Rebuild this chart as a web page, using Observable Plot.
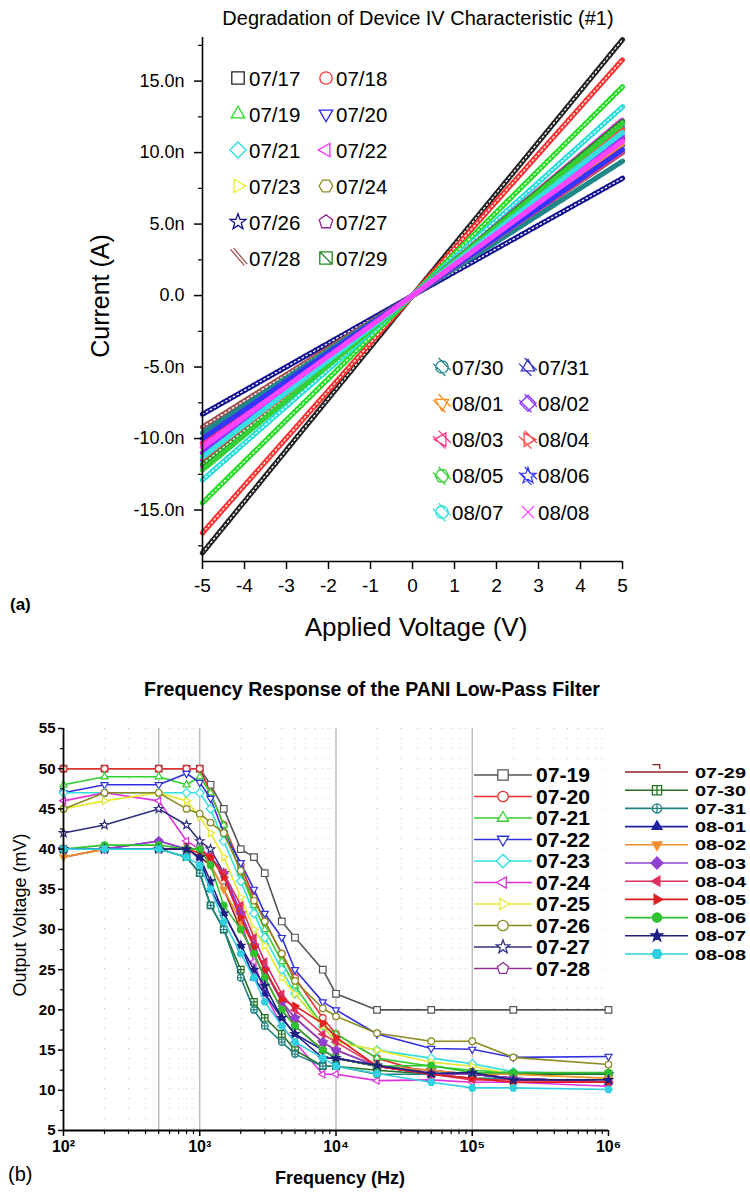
<!DOCTYPE html>
<html><head><meta charset="utf-8">
<script src="https://cdn.jsdelivr.net/npm/d3@7"></script>
<script src="https://cdn.jsdelivr.net/npm/@observablehq/plot@0.6"></script>
<style>
body{margin:0;background:#fff;}
#wrap{position:relative;width:750px;height:1193px;overflow:hidden;background:#fff;}
</style></head><body><div id="wrap"></div>
<script>
// ---------------- Panel (a) data: current (nA) at each applied voltage ----------------
const voltsA = [-5, -2.5, 0, 2.5, 5];
const iv_0717 = [-18.0, -9.0, 0, 8.95, 17.9];
const iv_0718 = [-16.6, -8.3, 0, 8.25, 16.5];
const iv_0719 = [-14.5, -7.25, 0, 7.3, 14.6];
const iv_0720 = [-11.5, -5.75, 0, 5.9, 11.8];
const iv_0721 = [-12.9, -6.45, 0, 6.6, 13.2];
const iv_0722 = [-12.0, -6.0, 0, 6.15, 12.3];
const iv_0723 = [-11.3, -5.65, 0, 5.75, 11.5];
const iv_0724 = [-11.0, -5.5, 0, 5.8, 11.6];
const iv_0726 = [-8.3, -4.15, 0, 4.1, 8.2];
const iv_0727 = [-10.6, -5.3, 0, 5.5, 11.0];
const iv_0728 = [-9.2, -4.6, 0, 5.0, 10.0];
const iv_0729 = [-11.8, -5.9, 0, 6.1, 12.2];
const iv_0730 = [-9.6, -4.8, 0, 4.7, 9.4];
const iv_0731 = [-10.3, -5.15, 0, 5.25, 10.5];
const iv_0801 = [-10.5, -5.25, 0, 5.3, 10.6];
const iv_0802 = [-11.0, -5.5, 0, 5.6, 11.2];
const iv_0803 = [-10.3, -5.15, 0, 5.05, 10.1];
const iv_0804 = [-11.4, -5.7, 0, 5.8, 11.6];
const iv_0805 = [-12.2, -6.1, 0, 6.0, 12.0];
const iv_0806 = [-10.0, -5.0, 0, 5.1, 10.2];
const iv_0807 = [-11.3, -5.65, 0, 5.7, 11.4];
const iv_0808 = [-10.6, -5.3, 0, 5.4, 10.8];
const datesA = ["07/17","07/18","07/19","07/20","07/21","07/22","07/23","07/24","07/26","07/27","07/28","07/29",
                "07/30","07/31","08/01","08/02","08/03","08/04","08/05","08/06","08/07","08/08"];
const seriesA = [iv_0717,iv_0718,iv_0719,iv_0720,iv_0721,iv_0722,iv_0723,iv_0724,iv_0726,iv_0727,iv_0728,iv_0729,
                 iv_0730,iv_0731,iv_0801,iv_0802,iv_0803,iv_0804,iv_0805,iv_0806,iv_0807,iv_0808];
const colorsA = ["#222222","#ff3030","#20dd20","#2525ff","#25dddd","#ff25ff","#eeee25","#8a8a25","#101090","#952595","#a05050","#208a20",
                 "#208888","#3535c0","#ff8c25","#8a35ff","#ff3585","#ff4a4a","#35d035","#3535ff","#35e0e0","#ff45ff"];
const symbolsA = ["square","circle","triUp","triDown","diamond","triLeft","triRight","hexagon","star","pentagon","dslash","squareD",
                  "circleH","triUpH","triDownH","diamondH","triLeftH","triRightH","hexagonH","starH","circleH","times"];
const yTicksA = [-15,-10,-5,0,5,10,15];
const yMinorA = [-17.5,-12.5,-7.5,-2.5,2.5,7.5,12.5,17.5];
const xTicksA = [-5,-4,-3,-2,-1,0,1,2,3,4,5];
const yDomainA = [-18.6, 18.05];
const xDomainA = [-5, 5];

// ---------------- Panel (b) data: output voltage (mV) vs frequency (Hz) ----------------
const freqB = [100,200,500,800,1000,1200,1500,2000,2500,3000,4000,5000,8000,10000,20000,50000,100000,200000,1000000];
const fr_0719 = [50,50,50,50,50,48,45,40,39,37,31,29,25,22,20,20,null,20,20];
const fr_0720 = [50,50,50,50,50,47,43,38,34,31,27,24,19,17,14,12,11.5,11,11];
const fr_0721 = [48,49,49,48,49,47,43,37,33,30,26,23,18,17,14,13,12.5,12.2,12];
const fr_0722 = [47,48,48,49.4,48.3,46.3,42,38.3,35,32,29,25,21,20,17,15.2,15.1,14.1,14.2];
const fr_0723 = [47,47,47,47,47,45,41,36,32,29,25,22,18,16,15,14,13.3,12.3,12];
const fr_0724 = [46,47,46,41,40,39,37,31,26,22,18,16,12,12,11.2,11.3,11,11,10.5];
const fr_0725 = [45,46,47,46,44,42,39,34,30,28,24,22,18,16,15,13.5,13,12,11.5];
const fr_0726 = [45,47,47,45,44.4,43.3,42,37.3,33.6,31,27,23.6,20.2,19.2,17.1,16.1,16.1,14.1,13.2];
const fr_0727 = [42,43,45,43,41,40,37,32,28,25,21,19,16,15,13,12.5,12,12,12];
const fr_0728 = [40,40,41,40,40,39,37,32,28,25,21,18,15,14,13,12,12,11.5,11];
const fr_0729 = [39,40,40,40,39,38,35,30,27,24,20,18,15,14,13,12,12,11.5,11];
const fr_0730 = [40,40,40,39,37,33,30,25,21,19,17,15,13,13,12.5,12,12,12,12];
const fr_0731 = [40,40,40,39,37,33,30,24,20,18,16,14.5,13,13,12,12,11.5,11.5,11];
const fr_0801 = [40,40,40,40,39,35,32,28,24,22,19,17,15,14,13,12,12,11.5,11];
const fr_0802 = [39,40,40,40,40,38,35,31,28,25,21,19,16,15,13,12.5,12,12,11.5];
const fr_0803 = [40,40,41,40,40,39,37,32,28,25,21,19,16,15,13,12,12,11.5,11];
const fr_0804 = [40,40,40,40,40,39,37,33,29,26,22,20,17,16,13,12,11.3,11.3,11];
const fr_0805 = [40,40,40,40,39.5,39,36.5,31.5,27.8,25,21.3,20.5,18.3,16.6,13,12,11.5,11,11];
const fr_0806 = [40,40.5,40.5,40,40,38,33,30,27,24,20,18,15,14,13,13.1,12.2,12.2,12.2];
const fr_0807 = [40,40,40,40,39,36,32,28,25,23,19,17,14,14,13.1,12.1,12.2,11.3,11.3];
const fr_0808 = [40,40,40,39,38,35,31,27,24,21,18,16,14,13,12.1,11,10.3,10.3,10.1];
const namesB = ["07-19","07-20","07-21","07-22","07-23","07-24","07-25","07-26","07-27","07-28",
                "07-29","07-30","07-31","08-01","08-02","08-03","08-04","08-05","08-06","08-07","08-08"];
const seriesB = [fr_0719,fr_0720,fr_0721,fr_0722,fr_0723,fr_0724,fr_0725,fr_0726,fr_0727,fr_0728,
                 fr_0729,fr_0730,fr_0731,fr_0801,fr_0802,fr_0803,fr_0804,fr_0805,fr_0806,fr_0807,fr_0808];
const colorsB = ["#555555","#e83030","#30d030","#3030e0","#30e0e0","#e030e0","#e8e830","#8a8a20","#303080","#903090",
                 "#902020","#207020","#208080","#2020a0","#f09030","#9040d0","#e03060","#e02020","#30c030","#202080","#30d0e0"];
const symbolsB = ["square","circle","triUp","triDown","diamond","triLeft","triRight","circle","star","pentagon",
                  "hook","squarePlus","circlePlus","triUp","triDown","diamond","triLeft","triRight","circle","star","hexagon"];
const filledB = [false,false,false,false,false,false,false,false,false,false,
                 false,false,false,true,true,true,true,true,true,true,true];
const yTicksB = [5,10,15,20,25,30,35,40,45,50,55];
const yMinorB = [7.5,12.5,17.5,22.5,27.5,32.5,37.5,42.5,47.5,52.5];
const xTicksB = [100,1000,10000,100000,1000000];
const xMinorB = [200,300,400,500,600,700,800,900,2000,3000,4000,5000,6000,7000,8000,9000,
                 20000,30000,40000,50000,60000,70000,80000,90000,200000,300000,400000,500000,600000,700000,800000,900000];
const gridMajorB = [500,1000,10000,100000];
const yDomainB = [5, 55];
const xDomainB = [100, 1000000];

// ---------------- symbols ----------------
const FONT = "'Liberation Sans', Arial, Helvetica, sans-serif";
function poly(c, n, r, a0) {
  for (let i = 0; i < n; i++) {
    const a = a0 + i * 2 * Math.PI / n, x = r * Math.cos(a), y = r * Math.sin(a);
    if (i === 0) c.moveTo(x, y); else c.lineTo(x, y);
  }
  c.closePath();
}
function hatch(c, r) {
  for (const o of [-0.45 * r, 0.45 * r]) {
    c.moveTo(-r + o, -r - o); c.lineTo(r + o, r - o);
  }
}
function shape(name, c, r) {
  const base = name.endsWith("H") ? name.slice(0, -1) : name;
  switch (base) {
    case "square": c.rect(-r, -r, 2 * r, 2 * r); break;
    case "circle": c.moveTo(r, 0); c.arc(0, 0, r, 0, 2 * Math.PI); break;
    case "triUp": poly(c, 3, r * 1.25, -Math.PI / 2); break;
    case "triDown": poly(c, 3, r * 1.25, Math.PI / 2); break;
    case "triLeft": poly(c, 3, r * 1.25, Math.PI); break;
    case "triRight": poly(c, 3, r * 1.25, 0); break;
    case "diamond": poly(c, 4, r * 1.3, -Math.PI / 2); break;
    case "hexagon": poly(c, 6, r * 1.1, 0); break;
    case "pentagon": poly(c, 5, r * 1.15, -Math.PI / 2); break;
    case "star":
      for (let i = 0; i < 10; i++) {
        const rr = i % 2 ? r * 0.55 : r * 1.35, a = -Math.PI / 2 + i * Math.PI / 5;
        const x = rr * Math.cos(a), y = rr * Math.sin(a);
        if (i === 0) c.moveTo(x, y); else c.lineTo(x, y);
      }
      c.closePath(); break;
    case "dslash":
      c.moveTo(-r * 1.2, -r * 1.4); c.lineTo(r * 1.0, r * 1.2);
      c.moveTo(-r * 0.7, -r * 1.6); c.lineTo(r * 1.5, r * 1.0); break;
    case "squareD": c.rect(-r, -r, 2 * r, 2 * r); c.moveTo(-r, -r); c.lineTo(r, r); break;
    case "times": c.moveTo(-r, -r); c.lineTo(r, r); c.moveTo(r, -r); c.lineTo(-r, r); break;
    case "hook": c.moveTo(-r, -r * 1.6); c.lineTo(r * 0.6, -r * 1.6); c.lineTo(r * 0.6, -r * 0.6); break;
    case "squarePlus": c.rect(-r, -r, 2 * r, 2 * r); c.moveTo(-r, 0); c.lineTo(r, 0); c.moveTo(0, -r); c.lineTo(0, r); break;
    case "circlePlus": c.moveTo(r, 0); c.arc(0, 0, r, 0, 2 * Math.PI); c.moveTo(-r, 0); c.lineTo(r, 0); c.moveTo(0, -r); c.lineTo(0, r); break;
  }
  if (name.endsWith("H")) hatch(c, r);
}
const SYM = name => ({draw(ctx, size) { shape(name, ctx, Math.sqrt(size / Math.PI)); }});
function symPath(name, r) { const p = d3.path(); shape(name, p, r); return p.toString(); }

const wrap = document.getElementById("wrap");
function label(text, x, y, {size = 18, weight = "normal", rotate = 0, anchor = "middle"} = {}) {
  const d = document.createElement("div");
  d.textContent = text;
  d.style.cssText = `position:absolute;left:${x}px;top:${y}px;font-family:${FONT};font-size:${size}px;font-weight:${weight};white-space:nowrap;line-height:1;color:#000;transform:translate(${anchor === "start" ? "0" : "-50%"},-50%) rotate(${rotate}deg);`;
  wrap.appendChild(d);
}

// ---------------- Panel (a) ----------------
const rowsA = datesA.flatMap((d, i) => voltsA.map((v, j) => ({date: d, v, cur: seriesA[i][j]})));
const marksA = [];
datesA.forEach((d, i) => {
  const data = rowsA.filter(r => r.date === d);
  const hollow = i < 12;
  marksA.push(Plot.line(data, {x: "v", y: "cur", stroke: colorsA[i], strokeWidth: 5.2, strokeDasharray: hollow ? "3.2,1.2" : "2.2,0.9"}));
  if (hollow) marksA.push(Plot.line(data, {x: "v", y: "cur", stroke: "white", strokeWidth: 1.3, strokeDasharray: "1.6,2.8"}));
});
const fmtA = d => d === 0 ? "0.0" : (d < 0 ? "-" : "") + Math.abs(d).toFixed(1) + "n";
const chartA = Plot.plot({
  width: 750, height: 645,
  marginTop: 37, marginBottom: 84, marginLeft: 202, marginRight: 128,
  x: {domain: xDomainA},
  y: {domain: yDomainA},
  style: {fontFamily: FONT, fontSize: "18px", color: "#000", background: "transparent", overflow: "visible"},
  marks: [
    ...marksA,
    Plot.ruleX([xDomainA[0]], {stroke: "#000", strokeWidth: 1.6}),
    Plot.ruleY([yDomainA[0]], {stroke: "#000", strokeWidth: 1.6}),
    Plot.axisY(yTicksA, {anchor: "left", tickSize: 8, tickPadding: 10, tickFormat: fmtA, fontSize: 18, strokeWidth: 1.5, label: null}),
    Plot.axisY(yMinorA, {anchor: "left", tickSize: 4, tickFormat: () => "", strokeWidth: 1.2, label: null}),
    Plot.axisX(xTicksA, {anchor: "bottom", tickSize: 8, tickPadding: 9, tickFormat: d => (d < 0 ? "-" : "") + Math.abs(d), fontSize: 19, strokeWidth: 1.5, label: null})
  ]
});
chartA.style.position = "absolute"; chartA.style.left = "0px"; chartA.style.top = "0px";
wrap.appendChild(chartA);

// ---------------- Panel (b) ----------------
const rowsB = namesB.flatMap((n, i) => freqB.map((f, j) => ({name: n, f, mv: seriesB[i][j]}))).filter(r => r.mv != null);
const marksB = [];
namesB.forEach((n, i) => {
  const data = rowsB.filter(r => r.name === n);
  marksB.push(Plot.line(data, {x: "f", y: "mv", stroke: colorsB[i], strokeWidth: 1.6}));
  marksB.push(Plot.dot(data, {x: "f", y: "mv", symbol: SYM(symbolsB[i]), r: 3.3, stroke: colorsB[i], strokeWidth: 1.2, fill: filledB[i] ? colorsB[i] : "white"}));
});
const sup = {2: "\u00b2", 3: "\u00b3", 4: "\u2074", 5: "\u2075", 6: "\u2076"};
const chartB = Plot.plot({
  width: 750, height: 513,
  marginTop: 48, marginBottom: 63, marginLeft: 63, marginRight: 142,
  x: {type: "log", domain: xDomainB},
  y: {domain: yDomainB},
  style: {fontFamily: FONT, fontSize: "15px", color: "#000", background: "transparent", overflow: "visible"},
  marks: [
    Plot.ruleX(xMinorB, {stroke: "#c4c4c4", strokeWidth: 1, strokeDasharray: "1,9"}),
    Plot.ruleX(gridMajorB, {stroke: "#b4b4b4", strokeWidth: 1.3}),
    ...marksB,
    Plot.ruleX([xDomainB[0]], {stroke: "#000", strokeWidth: 1.8}),
    Plot.ruleY([yDomainB[0]], {stroke: "#000", strokeWidth: 1.8}),
    Plot.axisY(yTicksB, {anchor: "left", tickSize: 5, tickPadding: 3, fontSize: 15, fontWeight: "bold", strokeWidth: 1.5, label: null}),
    Plot.axisY(yMinorB, {anchor: "left", tickSize: 3, tickFormat: () => "", strokeWidth: 1.2, label: null}),
    Plot.axisX(xTicksB, {anchor: "bottom", tickSize: 6, tickPadding: 4, tickFormat: d => "10" + sup[Math.round(Math.log10(d))], fontSize: 16, fontWeight: "bold", strokeWidth: 1.5, label: null}),
    Plot.axisX(xMinorB, {anchor: "bottom", tickSize: 4, tickFormat: () => "", strokeWidth: 1.2, label: null})
  ]
});
chartB.style.position = "absolute"; chartB.style.left = "0px"; chartB.style.top = "680px";
wrap.appendChild(chartB);

// ---------------- Legends overlay ----------------
const svg = d3.select(wrap).append("svg")
  .attr("width", 750).attr("height", 1193)
  .style("position", "absolute").style("left", "0px").style("top", "0px").style("pointer-events", "none");

function legendA(startIndex, count, y0, dy, xs) {
  for (let k = 0; k < count; k++) {
    const i = startIndex + k, row = Math.floor(k / 2), col = k % 2;
    const y = y0 + row * dy, [sx, tx] = xs[col];
    svg.append("path").attr("d", symPath(symbolsA[i], 6.2)).attr("transform", `translate(${sx},${y})`)
      .attr("fill", "none").attr("stroke", colorsA[i]).attr("stroke-width", 1.3);
    svg.append("text").attr("x", tx).attr("y", y).attr("dominant-baseline", "central")
      .attr("font-family", FONT).attr("font-size", 20.5).attr("fill", "#000").text(datesA[i]);
  }
}
legendA(0, 12, 78, 36, [[238, 249], [326, 336]]);
legendA(12, 10, 367, 36.3, [[442, 452], [528, 538]]);

svg.append("rect").attr("x", 474).attr("y", 763).attr("width", 128).attr("height", 220).attr("fill", "white");
namesB.forEach((n, i) => {
  const left = i < 10;
  const y = left ? 775 + 21.5 * i : 772 + 18.2 * (i - 10);
  const [x1, x2, mx, tx, fs, tl] = left ? [474, 532, 503, 536, 19.5, 54] : [625, 688, 657, 695, 15.5, 51];
  svg.append("line").attr("x1", x1).attr("x2", x2).attr("y1", y).attr("y2", y).attr("stroke", colorsB[i]).attr("stroke-width", 1.6);
  svg.append("path").attr("d", symPath(symbolsB[i], left ? 5.2 : 4.6)).attr("transform", `translate(${mx},${y})`)
    .attr("fill", filledB[i] ? colorsB[i] : "white").attr("stroke", colorsB[i]).attr("stroke-width", 1.3);
  svg.append("text").attr("x", tx).attr("y", y).attr("dominant-baseline", "central")
    .attr("font-family", FONT).attr("font-size", fs).attr("font-weight", "bold").attr("fill", "#000")
    .attr("textLength", tl).attr("lengthAdjust", "spacingAndGlyphs").text(n);
});

// ---------------- Titles and axis labels ----------------
label("Degradation of Device IV Characteristic (#1)", 418, 18, {size: 20});
label("Current (A)", 100, 296, {size: 25, rotate: -90});
label("Applied Voltage (V)", 416, 627, {size: 26});
label("(a)", 10, 604, {size: 17, weight: "bold", anchor: "start"});
label("Frequency Response of the PANI Low-Pass Filter", 372, 690, {size: 19.5, weight: "bold"});
label("Output Voltage (mV)", 20, 915, {size: 18, rotate: -90});
label("Frequency (Hz)", 340, 1178, {size: 18, weight: "bold"});
label("(b)", 8, 1174, {size: 20, anchor: "start"});
</script></body></html>
